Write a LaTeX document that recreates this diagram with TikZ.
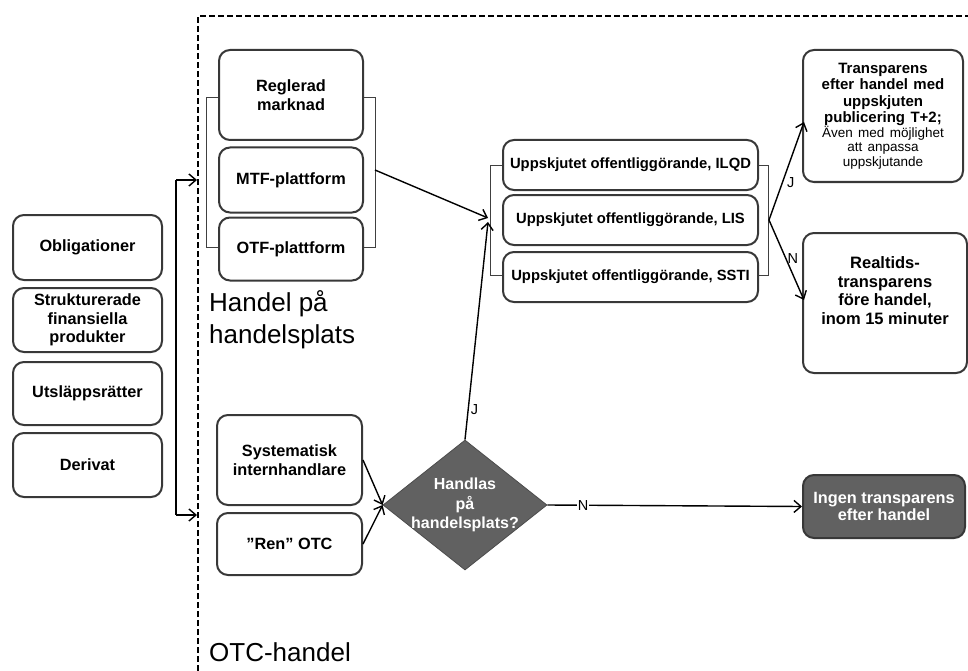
\documentclass[tikz,border=0pt]{standalone}
\usepackage{fontspec}
\setmainfont{Liberation Sans}
\usetikzlibrary{arrows.meta,shapes.geometric}
\begin{document}
\begin{tikzpicture}[x=1pt,y=-1pt,
  box/.style={draw=black!78, line width=2pt, rounded corners=11pt, fill=white,
    align=center, inner sep=2pt, font=\fontsize{16.3}{18.5}\selectfont\bfseries},
  smallbox/.style={box, font=\fontsize{14.8}{16}\selectfont\bfseries},
  darkbox/.style={box, fill=black!62, text=white},
  brk/.style={draw=black!75, line width=0.9pt},
  conn/.style={draw=black, line width=1.4pt, -{Straight Barb[length=7pt,width=12pt,line width=1.4pt]}},
  lbl/.style={font=\fontsize{14.5}{16}\selectfont, inner sep=1pt},
  big/.style={font=\fontsize{26}{32}\selectfont, align=left, anchor=west, inner sep=0pt},
  frame/.style={draw=black, line width=1.7pt, dash pattern=on 6pt off 3pt}]
\useasboundingbox (0,0) rectangle (968,671);

% dashed frame around the trading venues
\draw[frame] (198,671) -- (198,16) -- (968,16);

% instrument classes
\node[box, minimum width=149pt, minimum height=65pt] (obl) at (87.5,247.5) {Obligationer};
\node[box, minimum width=149pt, minimum height=64pt] (strk) at (87.5,320) {Strukturerade\\finansiella\\produkter};
\node[box, minimum width=149pt, minimum height=63pt] (utsl) at (87.5,393.5) {Utsläppsrätter};
\node[box, minimum width=149pt, minimum height=64pt] (deriv) at (87.5,465) {Derivat};

% bracket from instruments to both trading forms
\coordinate (lt) at (176,180);
\coordinate (lb) at (176,515);
\coordinate (ft) at (197,180);
\coordinate (fb) at (197,515);
\draw[draw=black, line width=1.6pt] (lt) -- (lb);
\draw[conn] (lt) -- (ft);
\draw[conn] (lb) -- (fb);

% trading venues
\node[box, minimum width=144pt, minimum height=90pt] (regl) at (291,95) {Reglerad\\marknad};
\node[box, minimum width=144pt, minimum height=65pt] (mtf) at (291,180) {MTF-plattform};
\node[box, minimum width=144pt, minimum height=63pt] (otf) at (291,249) {OTF-plattform};
\coordinate (vl1) at (206,97);
\coordinate (vl2) at (206,247);
\coordinate (vr1) at (375,97);
\coordinate (vr2) at (375,247);
\draw[brk] (regl.west|-vl1) -- (vl1) -- (vl2) -- (otf.west|-vl2);
\draw[brk] (regl.east|-vr1) -- (vr1) -- (vr2) -- (otf.east|-vr2);
\coordinate (vout) at (375,170);

\node[big, anchor=north west] (hlbl) at (209,290) {Handel på\\handelsplats};

% deferral regimes
\node[smallbox, minimum width=255pt, minimum height=50pt] (ilqd) at (630.5,165) {Uppskjutet offentliggörande, ILQD};
\node[smallbox, minimum width=255pt, minimum height=50pt] (lis) at (630.5,220) {Uppskjutet offentliggörande, LIS};
\node[smallbox, minimum width=255pt, minimum height=50pt] (ssti) at (630.5,277) {Uppskjutet offentliggörande, SSTI};
\coordinate (ul1) at (490,165);
\coordinate (ul2) at (490,275);
\coordinate (ur1) at (768,165);
\coordinate (ur2) at (768,275);
\draw[brk] (ilqd.west|-ul1) -- (ul1) -- (ul2) -- (ssti.west|-ul2);
\draw[brk] (ilqd.east|-ur1) -- (ur1) -- (ur2) -- (ssti.east|-ur2);
\coordinate (uin) at (488,218);
\coordinate (uin2) at (488,222);
\coordinate (uout) at (769,220);
\coordinate (tin) at (804,122);
\coordinate (rin) at (804,300);

% outcomes for trading on a venue
\node[box, minimum width=160pt, minimum height=132pt, inner sep=1pt, text width=156pt] (trans) at (883,116)
  {{\fontsize{15}{16.5}\selectfont\bfseries Transparens\\efter handel med\\uppskjuten\\publicering T+2;\par}
   {\fontsize{13.5}{14.5}\selectfont\mdseries Även med möjlighet\\att anpassa\\uppskjutande\par}};
\node[box, minimum width=164pt, minimum height=140pt, font=\fontsize{16.5}{18.5}\selectfont\bfseries] (realt) at (885,303)
  {Realtids-\\transparens\\före handel,\\inom 15 minuter\\[6pt]};

% OTC trading
\node[box, minimum width=145pt, minimum height=90pt] (syst) at (289.5,460) {Systematisk\\internhandlare};
\node[box, minimum width=145pt, minimum height=62pt] (ren) at (289.5,544) {”Ren” OTC};
\node[big] (olbl) at (209,652) {OTC-handel};

% decision
\node[diamond, draw=black!70, line width=0.8pt, fill=black!62, minimum width=164pt, minimum height=130pt, inner sep=0pt] (dec) at (465,505) {};
\node[align=center, text=white, font=\fontsize{16}{19.5}\selectfont\bfseries] (dectxt) at (dec.center) {Handlas\\på\\handelsplats?};

\node[darkbox, minimum width=162pt, minimum height=63pt, font=\fontsize{16.3}{17.5}\selectfont\bfseries] (ingen) at (884,506.5) {Ingen transparens\\efter handel};

% connectors
\draw[conn] (vout) -- (uin);
\draw[conn] (syst.east) -- (dec.west);
\draw[conn] (ren.east) -- (dec.west);
\draw[conn] (dec.north) -- node[lbl, pos=0.14, right=1pt] (jl1) {J} (uin2);
\draw[conn] (dec.east) -- node[lbl, pos=0.14, fill=white] (nl1) {N} (ingen.west);
\draw[conn] (uout) -- node[lbl, pos=0.38, right=3pt] (jl2) {J} (tin);
\draw[conn] (uout) -- node[lbl, pos=0.48, right=0pt] (nl2) {N} (rin);
\end{tikzpicture}
\end{document}
